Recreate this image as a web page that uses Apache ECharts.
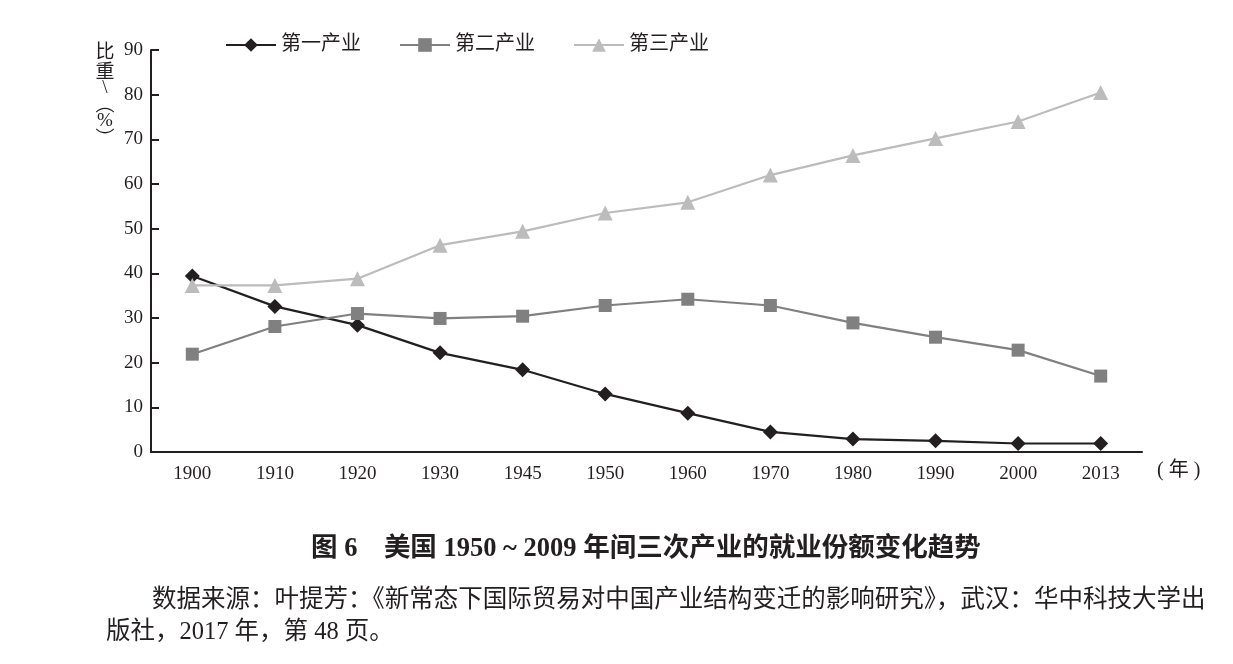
<!DOCTYPE html>
<html><head><meta charset="utf-8">
<script src="https://cdn.jsdelivr.net/npm/echarts@6/dist/echarts.min.js"></script>
<style>html,body{margin:0;padding:0;background:#fff}#c{width:1233px;height:664px}</style>
</head><body><div id="c"></div>
<script>
const years = ['1900','1910','1920','1930','1945','1950','1960','1970','1980','1990','2000','2013'];
const primary = [39.4, 32.6, 28.4, 22.2, 18.4, 13.0, 8.7, 4.5, 2.9, 2.5, 1.9, 1.9];
const secondary = [21.9, 28.1, 31.0, 29.9, 30.4, 32.8, 34.2, 32.8, 28.9, 25.7, 22.8, 17.0];
const tertiary = [37.3, 37.3, 38.8, 46.3, 49.4, 53.5, 55.9, 62.0, 66.4, 70.2, 74.0, 80.5];
const seriesNames = ['第一产业','第二产业','第三产业'];
const yTicks = [0,10,20,30,40,50,60,70,80,90];
const yNameChars = ['比','重','\\','︵','%','︶'];

const FONT = "'Liberation Serif','Noto Sans CJK SC',serif";
const CJK = "'Noto Sans CJK SC','Liberation Serif',sans-serif";
const INK = '#231f20';
const yNameCenters = [53, 73, 88, 104, 121, 138];
const yNameFonts = [FONT, FONT, FONT, CJK, FONT, CJK];
const graphics = yNameChars.map((ch, i) => ({
  type: 'text', x: 105, y: yNameCenters[i],
  style: {text: ch, font: "19px " + yNameFonts[i], fill: INK, align: 'center', verticalAlign: 'middle'}
}));
graphics.push(
  {type: 'text', left: 1157, top: 461, style: {text: '( 年 )', font: "20px " + FONT, fill: INK}},
  {type: 'text', left: 311, top: 536, style: {text: '图 6    美国 1950 ~ 2009 年间三次产业的就业份额变化趋势', font: "bold 26.5px " + FONT, fill: INK}},
  {type: 'text', left: 152, top: 588, style: {text: '数据来源：叶提芳：《新常态下国际贸易对中国产业结构变迁的影响研究》，武汉：华中科技大学出', font: "24.5px " + FONT, fill: INK}},
  {type: 'text', left: 106, top: 620, style: {text: '版社，2017 年，第 48 页。', font: "24.5px " + FONT, fill: INK}}
);

const chart = echarts.init(document.getElementById('c'));
chart.setOption({
  backgroundColor: '#fff',
  animation: false,
  textStyle: {fontFamily: FONT, color: INK},
  grid: {left: 151, right: 91, top: 50, bottom: 212},
  legend: {
    left: 220, top: 30, itemWidth: 50, itemHeight: 17, itemGap: 38,
    textStyle: {fontFamily: FONT, fontSize: 20, color: INK},
    data: seriesNames
  },
  xAxis: {
    type: 'category', data: years, boundaryGap: true,
    axisLine: {lineStyle: {color: INK, width: 2}},
    axisTick: {inside: true, length: 8, lineStyle: {color: INK, width: 2}},
    axisLabel: {fontFamily: FONT, fontSize: 19, color: INK, margin: 13}
  },
  yAxis: {
    type: 'value', min: yTicks[0], max: yTicks[yTicks.length-1], interval: 10,
    splitLine: {show: false},
    axisLine: {show: true, lineStyle: {color: INK, width: 2}},
    axisTick: {show: true, inside: true, length: 8, lineStyle: {color: INK, width: 2}},
    axisLabel: {fontFamily: FONT, fontSize: 19, color: INK, margin: 8}
  },
  graphic: graphics,
  series: [
    {name: seriesNames[0], type: 'line', data: primary, symbol: 'diamond', symbolSize: 15,
     itemStyle: {color: INK}, lineStyle: {color: INK, width: 2.2}},
    {name: seriesNames[1], type: 'line', data: secondary, symbol: 'rect', symbolSize: 13,
     itemStyle: {color: '#808080'}, lineStyle: {color: '#808080', width: 2.2}},
    {name: seriesNames[2], type: 'line', data: tertiary, symbol: 'triangle', symbolSize: 15,
     itemStyle: {color: '#bcbcbc'}, lineStyle: {color: '#bcbcbc', width: 2.2}}
  ]
});
</script></body></html>
